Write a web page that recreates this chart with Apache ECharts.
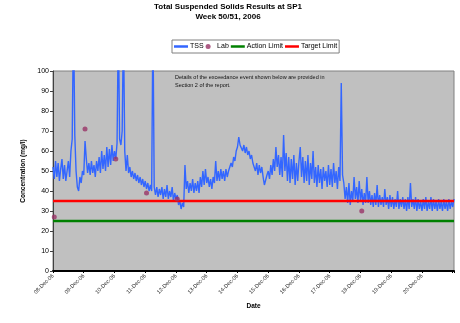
<!DOCTYPE html>
<html>
<head>
<meta charset="utf-8">
<script src="https://cdn.jsdelivr.net/npm/echarts@6/dist/echarts.min.js"></script>
<style>
  html, body { margin: 0; padding: 0; background: #fff; }
  #chart { width: 460px; height: 323px; }
</style>
</head>
<body>
<div id="chart"></div>
<script>
// Day labels along the date axis (one per 24 h from 08-Dec-06 00:00)
const dateLabels = ['08-Dec-06', '09-Dec-06', '10-Dec-06', '11-Dec-06', '12-Dec-06', '13-Dec-06',
  '14-Dec-06', '15-Dec-06', '16-Dec-06', '17-Dec-06', '18-Dec-06', '19-Dec-06', '20-Dec-06'];

// Hourly TSS logger readings (mg/l), one row per day starting 08-Dec-06 00:00
const sampleStepHours = 1;
const tss = [
  52, 46, 55, 47, 54, 45, 51, 56, 46, 53, 45, 50, 55, 47, 60, 66, 130, 68, 50, 42, 40, 47, 44, 50,
  48, 65, 56, 49, 54, 48, 55, 49, 53, 47, 55, 50, 57, 49, 60, 51, 58, 50, 62, 52, 61, 53, 63, 55,
  60, 56, 64, 125, 66, 63, 70, 125, 60, 50, 58, 49, 52, 47, 50, 46, 49, 45, 48, 44, 47, 43, 46, 42,
  45, 41, 44, 40, 43, 40, 125, 42, 38, 42, 37, 41, 38, 42, 36, 41, 37, 43, 36, 40, 37, 42, 35, 39,
  36, 38, 33, 35, 31, 34, 32, 53, 41, 45, 39, 44, 40, 46, 39, 44, 40, 45, 39, 47, 42, 50, 43, 51,
  44, 47, 42, 46, 41, 47, 44, 55, 45, 50, 45, 51, 46, 50, 45, 51, 47, 50, 50, 54, 52, 57, 55, 60,
  62, 67, 63, 64, 60, 63, 59, 62, 58, 60, 56, 58, 54, 55, 50, 54, 48, 53, 49, 52, 47, 43, 42, 48,
  50, 46, 53, 48, 56, 50, 62, 52, 58, 48, 57, 47, 68, 50, 59, 45, 57, 44, 56, 46, 58, 43, 54, 45,
  55, 62, 47, 57, 44, 55, 45, 58, 43, 54, 46, 60, 44, 52, 42, 53, 44, 51, 41, 52, 45, 50, 42, 53,
  43, 51, 42, 54, 44, 50, 41, 52, 45, 94, 48, 44, 36, 42, 34, 44, 33, 40, 35, 47, 36, 42, 34, 45,
  35, 41, 33, 39, 34, 47, 34, 40, 33, 38, 32, 39, 33, 43, 32, 38, 33, 37, 32, 41, 33, 37, 31, 38,
  32, 37, 31, 36, 32, 40, 31, 36, 32, 37, 31, 36, 30, 37, 31, 44, 32, 36, 31, 37, 30, 36, 31, 35,
  30, 36, 31, 37, 30, 35, 31, 37, 30, 36, 31, 35, 30, 36, 31, 35, 30, 36, 31, 35, 30, 36, 31, 35, 32, 36
];

// Laboratory grab samples
const labHours = [1, 25, 49, 73, 97, 241];
const labValues = [27, 71, 56, 39, 36, 30];

// Consent limits (mg/l)
const actionLimit = 25;
const targetLimit = 35;

// Axis extents
const axisEndHours = 313;
const yMin = 0, yMax = 100, yStep = 10;

const tssData = tss.map((v, i) => [i * sampleStepHours, v]);
const labData = labHours.map((h, i) => [h, labValues[i]]);
const limitLine = (v) => [[0, v], [axisEndHours, v]];

const font = '"Liberation Sans", Arial, sans-serif';
const lineIcon = 'path://M0,0H28V5H0Z';
const chart = echarts.init(document.getElementById('chart'), null, { renderer: 'canvas' });

chart.setOption({
  animation: false,
  backgroundColor: '#ffffff',
  textStyle: { fontFamily: font },
  title: {
    text: 'Total Suspended Solids Results at SP1\nWeek 50/51, 2006',
    left: 228,
    textAlign: 'center',
    top: 2,
    padding: 0,
    textStyle: { fontSize: 8, fontWeight: 'bold', color: '#000', lineHeight: 10, fontFamily: font }
  },
  legend: {
    left: 172,
    top: 40,
    orient: 'horizontal',
    itemWidth: 14,
    itemHeight: 5,
    itemGap: 2,
    padding: [3, 2, 3, 2],
    borderColor: '#808080',
    borderWidth: 1,
    backgroundColor: '#ffffff',
    symbolKeepAspect: true,
    textStyle: { fontSize: 7, color: '#000', fontFamily: font, padding: [0, 0, 0, -3] },
    data: [
      { name: 'TSS', icon: lineIcon },
      { name: 'Lab', icon: 'circle' },
      { name: 'Action Limit', icon: lineIcon },
      { name: 'Target Limit', icon: lineIcon }
    ]
  },
  grid: {
    left: 53, right: 6, top: 71, bottom: 52,
    show: true,
    backgroundColor: '#c0c0c0',
    borderColor: '#808080',
    borderWidth: 1
  },
  xAxis: {
    type: 'value',
    min: 0,
    max: axisEndHours,
    interval: 24,
    name: 'Date',
    nameLocation: 'middle',
    nameGap: 30,
    nameTextStyle: { fontSize: 6.5, fontWeight: 'bold', color: '#000' },
    axisLine: { show: true, onZero: false, lineStyle: { color: '#000', width: 2 } },
    axisTick: { show: true, length: 2, lineStyle: { color: '#000' } },
    splitLine: { show: false },
    axisLabel: {
      rotate: 45,
      fontSize: 5.5,
      color: '#222',
      margin: 4,
      formatter: (v) => dateLabels[Math.round(v / 24)] || ''
    }
  },
  yAxis: {
    type: 'value',
    min: yMin,
    max: yMax,
    interval: yStep,
    name: 'Concentration (mg/l)',
    nameLocation: 'middle',
    nameGap: 22,
    nameTextStyle: { fontSize: 6.5, fontWeight: 'bold', color: '#000' },
    axisLine: { show: true, lineStyle: { color: '#404040', width: 1 } },
    axisTick: { show: true, length: 3, lineStyle: { color: '#404040' } },
    splitLine: { show: false },
    axisLabel: { fontSize: 7, color: '#000', margin: 4 }
  },
  graphic: [{
    type: 'text',
    left: 175,
    top: 73,
    z: 100,
    style: {
      text: 'Details of the exceedance event shown below are provided in\nSection 2 of the report.',
      fontSize: 5.5,
      lineHeight: 8.5,
      fill: '#111',
      fontFamily: font
    }
  }],
  series: [
    {
      name: 'TSS',
      type: 'line',
      data: tssData,
      showSymbol: false,
      symbol: 'none',
      clip: true,
      lineStyle: { color: '#3366ff', width: 1.4 },
      itemStyle: { color: '#3366ff' },
      z: 2
    },
    {
      name: 'Action Limit',
      type: 'line',
      data: limitLine(actionLimit),
      symbol: 'none',
      lineStyle: { color: '#008000', width: 2.5 },
      itemStyle: { color: '#008000' },
      z: 3
    },
    {
      name: 'Target Limit',
      type: 'line',
      data: limitLine(targetLimit),
      symbol: 'none',
      lineStyle: { color: '#ff0000', width: 2.5 },
      itemStyle: { color: '#ff0000' },
      z: 3
    },
    {
      name: 'Lab',
      type: 'scatter',
      data: labData,
      symbol: 'circle',
      symbolSize: 5,
      itemStyle: { color: '#993366' },
      z: 5
    }
  ]
});
</script>
</body>
</html>
